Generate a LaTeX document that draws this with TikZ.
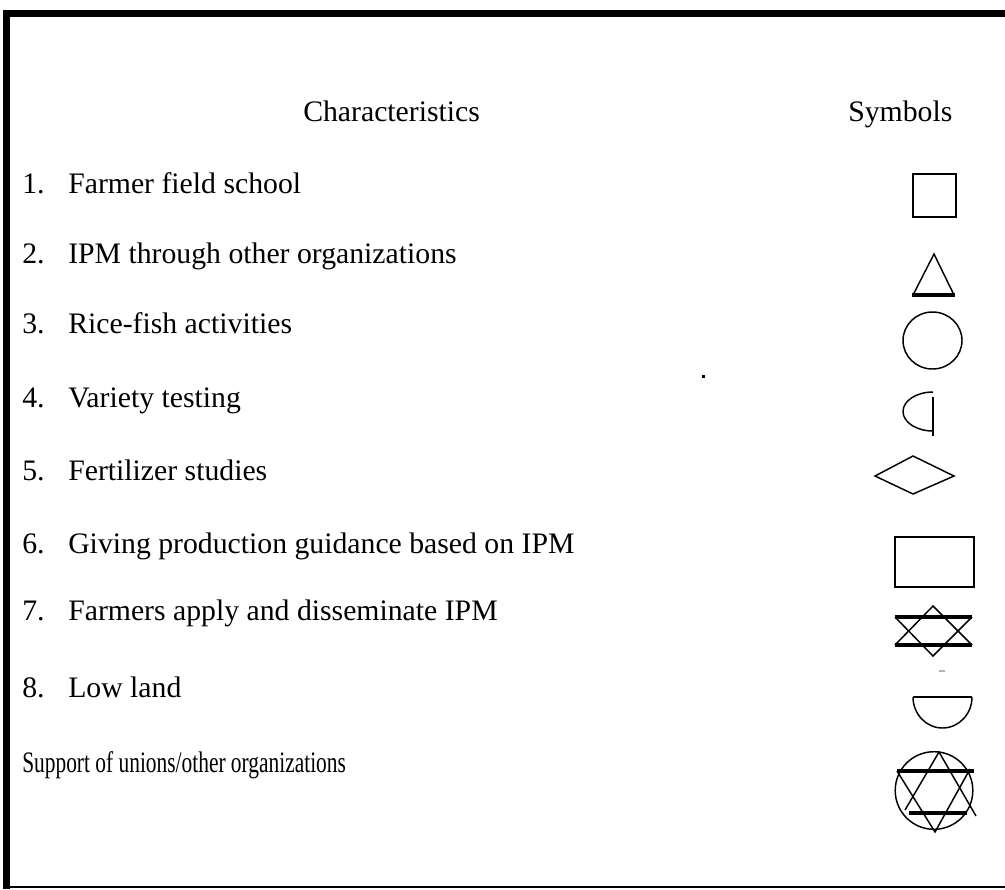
\documentclass[tikz,border=0pt]{standalone}
\usepackage{fontspec}
\setmainfont{Liberation Serif}
\usepackage{xcolor}
\usetikzlibrary{positioning}

\begin{document}
\begin{tikzpicture}[x=0.75pt, y=-0.75pt,
    every node/.style={font=\fontsize{22.3pt}{26pt}\selectfont, inner sep=0pt},
    txt/.style={anchor=base west},
    sym/.style={line width=1.1pt, line join=miter},
    bar/.style={line width=3pt}]

        \useasboundingbox (0,0) rectangle (1005,889);

        % Frame
        \draw[line width=5.2pt] (1005,13.5) -- (6.5,13.5) -- (6.5,889);
        \draw[line width=1.5pt] (3,887) -- (1005,887);

        % Headings
        \node[txt] (head) at (303,121) {Characteristics};
        \node[txt] (symhead) at (848,121) {Symbols};

        % Characteristics
        \node[txt] (n1) at (22,193) {1.};
        \node[txt] (c1) at (68,193) {Farmer field school};
        \node[txt] (n2) at (22,263) {2.};
        \node[txt] (c2) at (68,263) {IPM through other organizations};
        \node[txt] (n3) at (22,333) {3.};
        \node[txt] (c3) at (68,333) {Rice-fish activities};
        \node[txt] (n4) at (22,407) {4.};
        \node[txt] (c4) at (68,407) {Variety testing};
        \node[txt] (n5) at (22,480) {5.};
        \node[txt] (c5) at (68,480) {Fertilizer studies};
        \node[txt] (n6) at (22,553) {6.};
        \node[txt] (c6) at (68,553) {Giving production guidance based on IPM};
        \node[txt] (n7) at (22,620) {7.};
        \node[txt] (c7) at (68,620) {Farmers apply and disseminate IPM};
        \node[txt] (n8) at (22,697) {8.};
        \node[txt] (c8) at (68,697) {Low land};
        \node[txt] (c9) at (22,772) {\scalebox{0.72}[1]{Support of unions/other organizations}};

        % Stray marks
        \fill (701.5,375) rectangle (704.5,378);
        \draw[gray!60, line width=0.8pt] (939,671) -- (945,671);

        % Symbols
        \draw[sym] (913,174) rectangle (956,217);
        \draw[sym] (913,295) -- (934,254) -- (954,295);
        \draw[bar] (912,295) -- (955,295);
        \draw[sym] (932.5,340.5) ellipse [x radius=29.5, y radius=28.5];
        \draw[sym] (933,392) arc[start angle=270, end angle=90, x radius=30, y radius=19.5];
        \draw[sym] (933,397) -- (933,436);
        \draw[sym] (875,476) -- (913,456) -- (954,476) -- (913,494) -- cycle;
        \draw[sym] (895,537) rectangle (974,587);
        \draw[sym] (895,645) -- (933,606) -- (972,645);
        \draw[sym] (895,617) -- (933,656) -- (972,617);
        \draw[bar] (895,617) -- (972,617);
        \draw[bar] (895,645) -- (972,645);
        \draw[sym] (913,697) -- (972,697);
        \draw[sym] (972,697) arc[start angle=0, end angle=180, x radius=29.5, y radius=31];
        \draw[sym] (934,790.5) circle [radius=38.8];
        \draw[sym] (905,810) -- (939,752) -- (976,816);
        \draw[sym] (897,771) -- (935,832) -- (970,769);
        \draw[bar] (897,771) -- (974,771);
        \draw[bar] (909,813) -- (967,813);

    \end{tikzpicture}
\end{document}
